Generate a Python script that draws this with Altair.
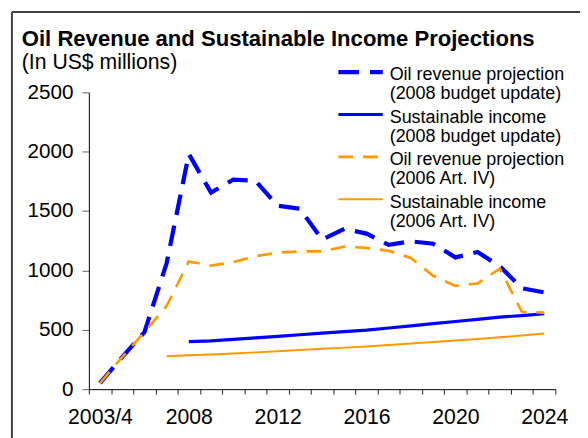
import json
import altair as alt
import pandas as pd

# ---------------- data ----------------
categories = ["2003/4", "2005", "2006", "2007", "2008", "2009", "2010", "2011",
              "2012", "2013", "2014", "2015", "2016", "2017", "2018", "2019",
              "2020", "2021", "2022", "2023", "2024"]

oil_2008 = [50, 270, 480, 1060, 1980, 1655, 1765, 1755, 1545, 1520, 1260,
            1350, 1310, 1215, 1245, 1225, 1110, 1155, 1035, 850, 815]
sust_2008 = [None, None, None, None, 400, 407, 420, 432, 445, 458, 472,
             485, 497, 515, 533, 552, 570, 588, 607, 620, 635]
oil_2006 = [50, 270, 480, 700, 1075, 1040, 1070, 1120, 1150, 1160, 1160,
            1200, 1190, 1165, 1105, 955, 870, 890, 1015, 650, 645]
sust_2006 = [None, None, None, 278, 285, 292, 300, 310, 320, 330, 340,
             350, 360, 372, 385, 398, 410, 422, 437, 452, 468]

series_names = ["Oil revenue projection (2008 budget update)",
                "Sustainable income (2008 budget update)",
                "Oil revenue projection (2006 Art. IV)",
                "Sustainable income (2006 Art. IV)"]
legend_lines = [["Oil revenue projection", "(2008 budget update)"],
                ["Sustainable income", "(2008 budget update)"],
                ["Oil revenue projection", "(2006 Art. IV)"],
                ["Sustainable income", "(2006 Art. IV)"]]
y_ticks = [0, 500, 1000, 1500, 2000, 2500]

title_text = "Oil Revenue and Sustainable Income Projections"
subtitle_text = "(In US$ millions)"

# ---------------- styles ----------------
BLUE = "#0000FF"
ORANGE = "#FF9900"
FONT = "Liberation Sans, Arial, sans-serif"
styles = [
    dict(color=BLUE, strokeWidth=4.3, strokeDash=[21, 11]),
    dict(color=BLUE, strokeWidth=3.2),
    dict(color=ORANGE, strokeWidth=2.7, strokeDash=[15, 10]),
    dict(color=ORANGE, strokeWidth=2.0),
]

W, H = 473, 301
band = W / len(categories)

rows = []
for name, vals in zip(series_names, [oil_2008, sust_2008, oil_2006, sust_2006]):
    for i, v in enumerate(vals):
        if v is not None:
            rows.append({"idx": i, "value": v, "series": name})
df = pd.DataFrame(rows)

cats_js = json.dumps(categories)
label_expr = (f"(round(datum.value + 0.5) % 4 == 0 && datum.value < {len(categories) - 1}) "
              f"? {cats_js}[round(datum.value + 0.5)] : ''")

x_enc = alt.X("idx:Q",
              scale=alt.Scale(domain=[-0.5, len(categories) - 0.5], nice=False, zero=False),
              axis=alt.Axis(values=[i - 0.5 for i in range(len(categories) + 1)],
                            labelExpr=label_expr, labelOffset=band / 2,
                            labelOverlap=False, labelFlush=False, labelBound=False,
                            tickSize=5, labelPadding=13, labelFontSize=21.5,
                            labelFont=FONT, labelColor="black",
                            domainColor="black", tickColor="#222", grid=False,
                            title=None))
y_enc = alt.Y("value:Q",
              scale=alt.Scale(domain=[0, 2500], nice=False),
              axis=alt.Axis(values=y_ticks, format="d", tickSize=7, labelPadding=9,
                            labelFontSize=21, labelFont=FONT, labelColor="black",
                            domainColor="black", tickColor="#666", grid=False,
                            title=None))

layers = []
for name, st in zip(series_names, styles):
    layers.append(
        alt.Chart(df).transform_filter(alt.datum.series == name)
        .mark_line(**st).encode(x=x_enc, y=y_enc)
    )

one = alt.Data(values=[{}])

# border frame (only top and left edges are visible in the frame)
layers.append(alt.Chart(one).mark_rule(color="#404040", strokeWidth=2)
              .encode(x=alt.value(-78), y=alt.value(-81.5), y2=alt.value(420)))
layers.append(alt.Chart(one).mark_rule(color="#404040", strokeWidth=2)
              .encode(x=alt.value(-78), x2=alt.value(620), y=alt.value(-81.5)))

# title and subtitle
layers.append(alt.Chart(one).mark_text(text=title_text, align="left", baseline="alphabetic",
                                       font=FONT, fontSize=22.4, fontWeight="bold",
                                       color="black")
              .encode(x=alt.value(-68), y=alt.value(-47)))
layers.append(alt.Chart(one).mark_text(text=subtitle_text, align="left", baseline="alphabetic",
                                       font=FONT, fontSize=21.5, color="black")
              .encode(x=alt.value(-68), y=alt.value(-23.5)))

# legend
for k, (lines, st) in enumerate(zip(legend_lines, styles)):
    sy = -20.5 + 43 * k
    layers.append(alt.Chart(one).mark_rule(**st)
                  .encode(x=alt.value(253), x2=alt.value(298), y=alt.value(sy)))
    for j, ln in enumerate(lines):
        layers.append(alt.Chart(one).mark_text(text=ln, align="left", baseline="alphabetic",
                                               font=FONT, fontSize=18.2, color="black")
                      .encode(x=alt.value(305), y=alt.value(sy + 8.3 + 19.4 * j)))

chart = alt.layer(*layers).properties(
    width=W, height=H,
    autosize=alt.AutoSizeParams(type="none"),
    padding={"left": 82, "top": 82.5, "right": 25, "bottom": 46.5},
    background="white",
).configure_view(stroke=None)

chart.save("out.html", embed_options={"renderer": "svg", "actions": False})
